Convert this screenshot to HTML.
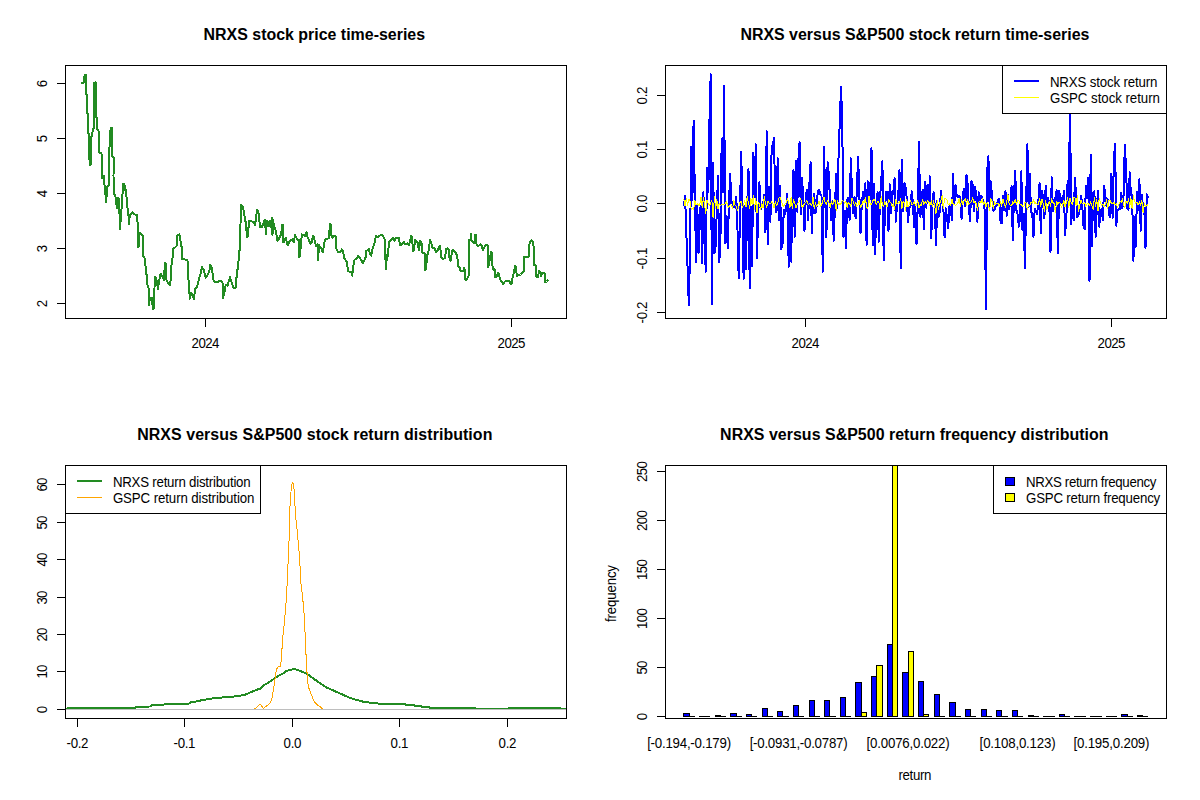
<!DOCTYPE html>
<html><head><meta charset="utf-8"><title>NRXS charts</title>
<style>html,body{margin:0;padding:0;background:#fff;width:1200px;height:800px;overflow:hidden}
svg{display:block;font-family:"Liberation Sans",sans-serif}</style></head>
<body>
<svg width="1200" height="800" viewBox="0 0 1200 800">
<rect width="1200" height="800" fill="#fff"/>
<g shape-rendering="auto">
<polyline points="82.2,83.1 83.5,82.5 84.0,78.8 84.8,74.8 86.0,75.2 86.0,93.8 87.0,94.4 87.0,113.1 88.2,113.8 88.2,133.1 89.2,133.8 89.2,156.2 90.0,165.0 91.0,163.8 91.0,138.1 92.0,135.0 93.0,129.4 94.0,128.1 94.0,83.1 95.6,82.5 96.0,116.9 97.2,117.5 97.5,130.0 98.5,130.6 98.8,141.9 99.4,142.5 99.4,153.1 101.5,153.5 102.2,170.0 102.2,178.1 103.8,175.6 104.4,183.8 105.0,190.0 106.2,201.9 107.2,186.2 109.0,185.0 109.4,167.5 109.4,147.5 110.0,145.0 110.6,127.5 111.9,128.1 112.2,156.2 113.8,157.5 113.5,176.2 113.8,192.5 115.6,197.5 116.9,208.1 118.1,197.5 119.0,198.8 120.0,228.8 121.2,213.8 122.2,198.8 123.1,183.8 124.4,184.4 125.2,190.0 126.2,190.0 126.9,205.0 128.1,211.2 129.1,223.8 129.8,215.0 132.5,211.9 134.4,214.4 136.9,215.0 137.8,225.0 138.5,247.5 139.4,232.5 141.2,233.8 142.8,235.6 143.1,256.2 145.0,258.8 145.6,267.5 146.9,277.5 147.5,285.0 148.8,288.8 149.0,305.0 150.0,297.5 151.9,297.5 152.8,308.8 153.8,308.1 154.4,290.0 155.0,276.9 156.2,277.5 156.9,282.5 158.1,288.8 159.0,281.2 160.6,273.8 162.5,276.2 163.8,280.0 165.0,262.5 166.2,263.8 166.5,280.0 168.1,283.1 170.0,285.0 170.6,280.0 171.2,267.5 172.5,258.1 173.1,248.8 175.0,247.5 176.9,245.6 177.5,235.0 179.4,234.4 180.6,241.2 181.9,248.8 181.9,258.8 185.0,259.4 187.5,260.6 188.1,273.8 189.0,286.2 189.8,298.8 191.2,292.5 192.5,295.0 194.0,298.8 195.0,288.8 196.9,287.5 198.1,282.5 199.4,277.5 200.6,273.8 201.9,266.9 203.8,270.0 205.6,277.5 207.5,275.0 209.4,271.2 210.0,265.0 211.9,267.5 213.1,278.8 214.4,281.9 217.5,281.9 220.6,280.6 222.5,282.5 223.1,298.1 224.4,292.5 225.6,285.0 227.5,285.6 228.8,281.2 230.0,276.9 231.2,281.2 232.5,285.0 233.8,288.1 235.6,287.5 236.2,280.0 238.1,265.0 239.4,252.5 240.0,242.5 241.0,205.0 242.5,206.2 243.8,211.2 245.0,218.8 246.2,225.0 246.9,236.9 248.1,236.2 248.8,221.2 250.6,220.6 252.5,221.9 253.8,221.9 255.0,225.6 256.2,218.1 256.9,210.0 258.1,211.2 259.0,216.2 260.0,226.9 261.9,226.9 263.1,223.8 264.8,220.0 266.0,233.8 266.9,221.2 268.1,226.2 269.4,221.2 270.6,227.5 271.9,217.5 272.5,235.0 273.1,219.4 273.8,225.0 275.0,228.8 276.2,231.2 276.9,240.6 278.1,240.6 279.4,237.5 281.2,234.4 282.2,225.0 283.1,225.0 283.5,242.5 284.8,238.8 286.2,237.5 286.9,244.4 288.1,245.0 289.4,241.2 291.2,240.0 292.5,239.4 293.8,242.5 295.0,235.0 296.2,236.9 296.9,239.4 298.8,240.0 299.0,257.5 300.0,256.2 300.6,247.5 301.9,234.4 303.8,235.0 305.0,236.2 306.5,232.5 307.2,236.2 308.8,240.0 310.6,243.8 311.9,242.5 312.8,235.6 314.0,237.5 315.0,241.9 316.2,246.2 317.5,243.8 318.1,260.6 319.0,245.0 320.6,247.5 321.9,250.0 323.1,252.5 323.8,245.6 325.0,239.4 327.5,238.8 328.8,238.1 330.0,223.8 331.0,225.0 331.2,235.0 332.5,237.5 334.4,235.6 335.6,236.2 336.0,248.1 338.1,251.9 340.0,251.9 341.9,249.4 343.1,251.2 344.4,258.8 345.6,260.0 346.9,261.9 348.1,271.2 350.0,271.9 351.5,271.9 352.2,275.6 353.1,267.5 354.4,260.0 356.2,258.8 358.1,256.2 360.0,258.1 361.2,260.0 362.8,263.1 364.4,260.0 365.6,257.5 366.2,251.2 367.5,250.0 369.0,248.8 370.0,254.4 371.2,255.6 372.5,248.8 373.8,245.0 375.0,241.2 376.0,235.6 376.9,237.5 378.1,236.9 380.0,235.6 381.9,235.0 383.8,237.5 385.0,240.0 385.2,253.8 386.0,268.8 386.9,255.0 388.1,256.2 388.8,242.5 390.6,240.0 393.1,238.1 394.4,240.6 396.2,237.5 398.8,237.5 400.0,245.0 401.9,244.4 403.8,241.9 405.6,244.4 407.5,243.1 408.8,245.0 410.0,241.2 411.2,235.6 412.2,236.9 412.8,251.2 414.0,250.0 415.0,240.0 416.2,241.2 417.5,242.5 418.8,250.0 420.2,241.2 421.5,242.5 422.5,252.5 424.8,253.8 425.2,270.0 426.2,268.8 426.9,255.0 428.1,253.8 429.0,247.5 430.0,240.0 431.2,242.5 432.5,247.5 434.4,248.1 436.0,252.5 437.5,250.6 438.8,247.5 440.0,246.2 441.5,257.5 443.1,258.8 445.0,258.1 446.0,249.4 447.5,248.1 448.8,250.0 449.8,260.6 451.0,260.6 451.9,251.2 453.5,250.0 455.6,252.5 457.2,255.6 458.1,266.2 460.0,268.1 460.5,270.5 463.5,271.0 464.2,268.0 465.0,270.5 465.5,280.0 466.5,279.5 467.8,277.5 469.0,275.0 469.0,240.0 470.5,240.0 471.0,233.5 471.5,240.5 473.5,243.0 474.5,242.5 475.0,234.5 475.8,235.0 476.2,242.5 477.0,245.5 478.5,246.0 480.5,244.0 481.5,245.5 482.8,250.0 484.0,248.0 485.5,245.0 487.0,244.5 488.2,246.0 488.0,267.0 489.0,265.0 490.0,258.0 491.0,252.0 491.8,253.0 492.2,264.5 493.5,270.0 494.5,269.0 495.2,277.0 497.0,276.5 498.0,272.5 499.0,274.0 499.8,279.0 501.0,281.0 502.0,282.0 503.0,284.5 504.5,282.0 506.0,280.5 508.0,280.5 509.5,281.0 510.5,284.0 512.0,283.0 512.5,278.0 513.5,274.0 514.0,271.0 515.2,266.0 516.0,267.0 516.8,276.0 519.0,275.0 520.5,274.5 522.5,273.0 523.8,271.0 524.0,256.5 528.5,257.0 529.0,247.0 530.0,241.5 531.5,240.5 533.0,242.5 534.0,249.5 534.2,265.0 536.0,265.5 536.2,276.5 538.0,277.0 539.0,271.0 540.0,272.0 541.0,276.0 542.0,273.0 544.0,272.5 545.0,274.0 545.2,282.5 546.5,281.5 547.5,280.5" fill="none" stroke="#228B22" stroke-width="2" stroke-linejoin="round" stroke-linecap="round" shape-rendering="crispEdges"/>
<polyline points="683.9,205.6 685.1,196.3 686.3,232.5 687.6,268.3 688.8,305.0 690.0,253.3 691.2,147.2 692.4,200.2 693.6,120.5 694.9,197.3 696.1,262.5 697.3,205.3 698.5,253.3 699.7,211.1 701.0,205.5 702.2,263.3 703.4,192.0 704.6,245.0 705.8,271.7 707.0,168.0 708.3,192.1 709.5,119.7 710.7,74.3 711.9,304.2 713.1,162.7 714.4,253.3 715.6,246.7 716.8,209.8 718.0,176.3 719.2,262.5 720.4,243.3 721.7,138.8 722.9,192.0 724.1,86.3 725.3,243.3 726.5,216.0 727.7,248.3 729.0,201.7 730.2,174.2 731.4,203.5 732.6,201.6 733.8,206.6 735.1,207.7 736.3,197.0 737.5,230.0 738.7,278.3 739.9,219.2 741.1,152.2 742.4,195.4 743.6,279.2 744.8,206.2 746.0,269.2 747.2,204.5 748.5,169.2 749.7,288.3 750.9,206.9 752.1,266.3 753.3,153.0 754.5,197.1 755.8,144.3 757.0,258.0 758.2,211.7 759.4,182.0 760.6,209.5 761.9,205.5 763.1,204.1 764.3,194.7 765.5,232.5 766.7,131.3 767.9,244.2 769.2,187.0 770.4,221.7 771.6,149.7 772.8,144.3 774.0,138.3 775.3,204.5 776.5,212.5 777.7,158.3 778.9,220.0 780.1,185.5 781.3,249.2 782.6,243.3 783.8,209.5 785.0,214.1 786.2,209.6 787.4,193.7 788.7,266.7 789.9,206.3 791.1,261.7 792.3,208.1 793.5,170.0 794.7,236.7 796.0,161.3 797.2,211.7 798.4,160.0 799.6,142.2 800.8,214.2 802.0,178.0 803.3,199.5 804.5,230.8 805.7,197.0 806.9,189.7 808.1,220.0 809.4,184.7 810.6,162.2 811.8,233.3 813.0,200.1 814.2,193.6 815.4,213.3 816.7,205.5 817.9,190.5 819.1,189.8 820.3,194.3 821.5,196.0 822.8,271.7 824.0,147.2 825.2,197.0 826.4,237.5 827.6,162.2 828.8,174.2 830.1,202.1 831.3,220.0 832.5,200.8 833.7,240.8 834.9,207.4 836.2,174.2 837.4,207.6 838.6,154.7 839.8,121.3 841.0,87.2 842.2,118.0 843.5,236.7 844.7,210.5 845.9,248.3 847.1,200.1 848.3,197.9 849.6,220.0 850.8,158.3 852.0,191.1 853.2,213.0 854.4,197.0 855.6,218.3 856.9,188.0 858.1,157.2 859.3,192.5 860.5,233.3 861.7,206.1 863.0,192.0 864.2,199.3 865.4,183.0 866.6,245.0 867.8,181.3 869.0,183.0 870.3,199.2 871.5,148.0 872.7,245.0 873.9,183.8 875.1,254.2 876.3,206.7 877.6,192.2 878.8,241.7 880.0,197.6 881.2,181.3 882.4,161.3 883.7,260.0 884.9,210.4 886.1,192.2 887.3,192.2 888.5,230.8 889.7,184.2 891.0,213.3 892.2,191.3 893.4,194.1 894.6,178.0 895.8,221.7 897.1,204.7 898.3,194.0 899.5,170.5 900.7,268.0 901.9,160.2 903.1,211.0 904.4,183.0 905.6,187.2 906.8,198.3 908.0,221.7 909.2,208.2 910.5,206.2 911.7,191.3 912.9,202.8 914.1,226.7 915.3,205.0 916.5,244.2 917.8,205.7 919.0,142.2 920.2,216.7 921.4,209.1 922.6,189.7 923.9,229.2 925.1,181.7 926.3,207.8 927.5,184.7 928.7,200.8 929.9,176.3 931.2,238.3 932.4,206.4 933.6,192.2 934.8,206.2 936.0,245.0 937.3,201.1 938.5,216.7 939.7,211.7 940.9,191.3 942.1,202.1 943.3,206.8 944.6,237.5 945.8,208.4 947.0,217.8 948.2,228.3 949.4,206.3 950.6,205.4 951.9,220.0 953.1,174.2 954.3,204.2 955.5,184.7 956.7,195.5 958.0,196.7 959.2,195.6 960.4,197.8 961.6,219.2 962.8,193.4 964.0,188.8 965.3,206.2 966.5,175.2 967.7,184.7 968.9,208.2 970.1,220.8 971.4,181.3 972.6,184.7 973.8,211.4 975.0,186.7 976.2,193.7 977.4,221.7 978.7,192.2 979.9,202.6 981.1,195.4 982.3,198.2 983.5,202.8 984.8,211.1 986.0,309.2 987.2,170.5 988.4,156.3 989.6,205.9 990.8,181.3 992.1,196.3 993.3,210.8 994.5,210.2 995.7,205.7 996.9,205.4 998.2,199.3 999.4,199.5 1000.6,222.5 1001.8,223.3 1003.0,195.5 1004.2,210.5 1005.5,191.3 1006.7,215.8 1007.9,194.9 1009.1,209.0 1010.3,203.8 1011.6,186.3 1012.8,240.0 1014.0,195.8 1015.2,170.5 1016.4,210.0 1017.6,214.7 1018.9,226.7 1020.1,217.6 1021.3,171.3 1022.5,230.0 1023.7,213.6 1024.9,268.0 1026.2,201.0 1027.4,144.3 1028.6,206.7 1029.8,174.2 1031.0,211.8 1032.3,214.2 1033.5,237.0 1034.7,209.0 1035.9,210.9 1037.1,213.8 1038.3,202.0 1039.6,183.0 1040.8,233.0 1042.0,190.8 1043.2,198.1 1044.4,218.3 1045.7,185.5 1046.9,203.7 1048.1,198.0 1049.3,203.4 1050.5,252.2 1051.7,177.2 1053.0,211.1 1054.2,208.5 1055.4,197.6 1056.6,190.1 1057.8,253.0 1059.1,191.3 1060.3,196.3 1061.5,202.5 1062.7,203.6 1063.9,190.5 1065.1,235.0 1066.4,216.3 1067.6,181.3 1068.8,203.5 1070.0,100.0 1071.2,224.2 1072.5,205.2 1073.7,220.0 1074.9,178.3 1076.1,195.0 1077.3,217.5 1078.5,215.3 1079.8,208.0 1081.0,196.3 1082.2,203.9 1083.4,225.8 1084.6,229.2 1085.9,185.5 1087.1,198.2 1088.3,178.0 1089.5,280.8 1090.7,155.0 1091.9,245.8 1093.2,192.9 1094.4,191.3 1095.6,236.7 1096.8,208.3 1098.0,191.3 1099.2,226.7 1100.5,210.1 1101.7,209.2 1102.9,220.0 1104.1,185.5 1105.3,195.5 1106.6,206.3 1107.8,199.3 1109.0,215.0 1110.2,217.4 1111.4,173.8 1112.6,217.8 1113.9,158.8 1115.1,144.3 1116.3,225.8 1117.5,209.9 1118.7,209.3 1120.0,209.0 1121.2,193.0 1122.4,208.3 1123.6,194.5 1124.8,145.0 1126.0,166.3 1127.3,208.4 1128.5,210.1 1129.7,172.2 1130.9,194.7 1132.1,194.6 1133.4,260.8 1134.6,217.4 1135.8,246.7 1137.0,191.5 1138.2,210.3 1139.4,179.2 1140.7,230.8 1141.9,194.7 1143.1,208.6 1144.3,207.7 1145.5,248.3 1146.8,194.2 1148.0,197.5" fill="none" stroke="#0000FF" stroke-width="2" stroke-linejoin="round" stroke-linecap="round" shape-rendering="crispEdges"/>
<polyline points="683.9,199.6 685.1,206.1 686.3,198.3 687.6,205.1 688.8,199.1 690.0,200.9 691.2,209.3 692.4,208.4 693.6,210.0 694.9,200.3 696.1,204.9 697.3,203.5 698.5,205.4 699.7,205.0 701.0,197.2 702.2,207.9 703.4,197.2 704.6,205.7 705.8,213.3 707.0,199.9 708.3,203.8 709.5,205.5 710.7,203.1 711.9,200.4 713.1,217.8 714.4,196.9 715.6,208.9 716.8,199.7 718.0,208.9 719.2,203.6 720.4,205.9 721.7,204.2 722.9,205.0 724.1,204.6 725.3,203.7 726.5,201.5 727.7,206.1 729.0,207.4 730.2,204.6 731.4,205.3 732.6,208.5 733.8,200.7 735.1,205.3 736.3,206.0 737.5,210.4 738.7,206.8 739.9,202.8 741.1,200.9 742.4,208.0 743.6,204.2 744.8,200.8 746.0,207.0 747.2,196.6 748.5,203.0 749.7,208.6 750.9,198.5 752.1,204.7 753.3,195.5 754.5,209.5 755.8,198.5 757.0,213.2 758.2,202.1 759.4,203.7 760.6,209.4 761.9,203.8 763.1,208.0 764.3,196.1 765.5,203.8 766.7,207.5 767.9,201.0 769.2,203.3 770.4,203.9 771.6,201.8 772.8,203.3 774.0,208.2 775.3,201.3 776.5,205.5 777.7,203.5 778.9,198.0 780.1,197.6 781.3,200.4 782.6,205.2 783.8,206.5 785.0,204.3 786.2,202.8 787.4,198.8 788.7,202.3 789.9,207.8 791.1,197.1 792.3,208.6 793.5,199.5 794.7,202.7 796.0,207.8 797.2,204.2 798.4,202.8 799.6,200.6 800.8,198.8 802.0,207.4 803.3,206.4 804.5,203.3 805.7,202.4 806.9,200.3 808.1,204.6 809.4,203.6 810.6,204.0 811.8,205.2 813.0,196.6 814.2,208.3 815.4,202.9 816.7,206.9 817.9,204.6 819.1,201.0 820.3,206.8 821.5,205.2 822.8,201.0 824.0,196.8 825.2,203.4 826.4,204.3 827.6,200.6 828.8,201.9 830.1,207.6 831.3,201.2 832.5,205.0 833.7,202.3 834.9,199.4 836.2,210.2 837.4,200.5 838.6,204.8 839.8,203.7 841.0,204.2 842.2,200.1 843.5,201.3 844.7,203.4 845.9,201.6 847.1,207.8 848.3,202.2 849.6,203.5 850.8,206.4 852.0,198.4 853.2,201.7 854.4,205.3 855.6,202.1 856.9,206.4 858.1,205.1 859.3,200.0 860.5,207.6 861.7,205.4 863.0,201.6 864.2,203.1 865.4,197.8 866.6,207.1 867.8,208.9 869.0,196.1 870.3,204.8 871.5,204.9 872.7,200.7 873.9,199.3 875.1,201.2 876.3,204.7 877.6,202.0 878.8,201.2 880.0,209.2 881.2,196.4 882.4,205.4 883.7,206.3 884.9,201.3 886.1,205.0 887.3,206.8 888.5,199.8 889.7,201.8 891.0,202.9 892.2,206.6 893.4,204.0 894.6,209.3 895.8,199.5 897.1,203.9 898.3,202.7 899.5,203.3 900.7,198.9 901.9,208.5 903.1,201.3 904.4,203.2 905.6,210.6 906.8,199.1 908.0,207.4 909.2,204.6 910.5,200.4 911.7,205.0 912.9,204.5 914.1,201.5 915.3,205.0 916.5,205.1 917.8,200.2 919.0,208.2 920.2,204.6 921.4,205.8 922.6,199.3 923.9,204.3 925.1,201.4 926.3,203.9 927.5,200.8 928.7,201.4 929.9,205.7 931.2,200.9 932.4,206.7 933.6,200.8 934.8,206.7 936.0,213.6 937.3,200.3 938.5,209.8 939.7,203.0 940.9,200.8 942.1,195.7 943.3,209.0 944.6,198.7 945.8,198.8 947.0,199.8 948.2,204.6 949.4,203.6 950.6,206.0 951.9,199.0 953.1,203.9 954.3,204.2 955.5,205.2 956.7,204.2 958.0,202.6 959.2,198.5 960.4,206.5 961.6,199.1 962.8,204.3 964.0,201.3 965.3,198.4 966.5,205.1 967.7,199.7 968.9,204.3 970.1,203.2 971.4,201.8 972.6,198.0 973.8,202.4 975.0,201.7 976.2,203.8 977.4,210.4 978.7,202.4 979.9,200.9 981.1,202.6 982.3,198.7 983.5,205.0 984.8,201.8 986.0,207.1 987.2,202.4 988.4,204.7 989.6,210.7 990.8,198.7 992.1,201.7 993.3,208.7 994.5,201.7 995.7,204.8 996.9,203.0 998.2,203.6 999.4,206.7 1000.6,201.3 1001.8,205.3 1003.0,199.3 1004.2,203.8 1005.5,208.0 1006.7,201.8 1007.9,194.4 1009.1,203.6 1010.3,205.4 1011.6,205.9 1012.8,201.8 1014.0,203.4 1015.2,199.3 1016.4,204.3 1017.6,200.9 1018.9,201.0 1020.1,204.2 1021.3,204.4 1022.5,206.2 1023.7,207.0 1024.9,202.3 1026.2,202.9 1027.4,209.9 1028.6,204.3 1029.8,205.6 1031.0,202.4 1032.3,203.3 1033.5,200.0 1034.7,203.5 1035.9,202.6 1037.1,204.1 1038.3,204.3 1039.6,198.8 1040.8,206.8 1042.0,199.4 1043.2,203.3 1044.4,211.5 1045.7,200.6 1046.9,209.6 1048.1,205.8 1049.3,201.1 1050.5,206.3 1051.7,198.7 1053.0,202.7 1054.2,203.8 1055.4,212.3 1056.6,201.5 1057.8,204.5 1059.1,202.1 1060.3,203.0 1061.5,207.8 1062.7,204.5 1063.9,200.6 1065.1,207.1 1066.4,202.0 1067.6,197.9 1068.8,207.1 1070.0,198.1 1071.2,203.2 1072.5,204.7 1073.7,197.6 1074.9,197.7 1076.1,205.4 1077.3,195.6 1078.5,211.6 1079.8,204.4 1081.0,199.8 1082.2,203.3 1083.4,203.8 1084.6,202.2 1085.9,206.3 1087.1,203.8 1088.3,203.0 1089.5,205.4 1090.7,201.8 1091.9,205.3 1093.2,209.5 1094.4,197.7 1095.6,206.4 1096.8,199.9 1098.0,211.0 1099.2,198.2 1100.5,203.3 1101.7,205.8 1102.9,204.1 1104.1,207.2 1105.3,204.3 1106.6,199.7 1107.8,209.0 1109.0,199.8 1110.2,200.8 1111.4,203.3 1112.6,204.0 1113.9,202.2 1115.1,205.1 1116.3,203.6 1117.5,207.4 1118.7,204.4 1120.0,201.7 1121.2,202.2 1122.4,198.6 1123.6,204.5 1124.8,207.8 1126.0,201.0 1127.3,203.5 1128.5,198.6 1129.7,207.4 1130.9,197.9 1132.1,208.8 1133.4,195.8 1134.6,201.2 1135.8,203.6 1137.0,201.9 1138.2,204.9 1139.4,201.6 1140.7,205.5 1141.9,200.6 1143.1,212.7 1144.3,203.8 1145.5,206.5 1146.8,205.7 1148.0,204.1" fill="none" stroke="#FFFF00" stroke-width="1" stroke-linejoin="round" stroke-linecap="round" shape-rendering="crispEdges"/>
<polyline points="65.5,708.7 71.2,707.8 135.0,707.8 135.8,706.8 150.0,706.5 151.5,705.5 158.2,705.0 169.5,704.0 189.0,703.6 190.5,702.5 195.8,701.5 201.0,700.4 208.5,699.0 216.8,697.8 230.2,697.0 239.2,695.8 245.0,694.8 248.8,693.2 252.5,691.4 256.2,689.9 260.0,688.8 263.8,685.4 267.5,683.1 271.2,680.9 275.0,678.2 278.8,675.6 282.5,673.8 286.2,671.1 290.0,669.9 293.8,669.1 297.5,669.9 301.2,671.4 305.0,673.0 308.8,675.2 312.5,677.9 316.2,680.5 320.0,683.1 323.8,685.8 327.5,688.0 331.2,689.5 334.2,690.9 342.5,694.5 350.0,698.0 357.5,700.2 365.0,702.2 372.5,702.8 380.0,703.7 390.0,703.8 405.0,703.8 405.8,704.7 414.0,705.0 414.8,705.9 421.5,706.2 422.2,707.1 429.8,707.4 430.2,708.0 474.8,708.0 475.5,708.5 508.5,708.5 509.2,707.9 559.5,707.9 560.2,708.5 566.5,708.5" fill="none" stroke="#228B22" stroke-width="2" stroke-linejoin="round" stroke-linecap="round" shape-rendering="crispEdges"/>
<line x1="66.00" y1="709.50" x2="566.00" y2="709.50" stroke="#BEBEBE" stroke-width="1" shape-rendering="crispEdges"/>
<polyline points="254.8,708.8 255.5,708.6 259.6,704.5 261.1,705.2 263.4,708.4 265.2,707.1 267.5,705.2 270.1,703.0 271.6,699.6 272.6,695.5 273.5,688.8 274.6,683.5 275.4,675.2 276.5,669.2 278.0,667.0 280.2,666.2 281.0,662.1 281.6,655.0 282.2,645.8 283.1,634.4 284.1,624.8 285.4,610.8 286.6,595.0 287.6,572.2 288.9,546.0 289.4,525.0 289.4,517.2 290.5,497.4 291.5,486.1 292.4,482.4 293.4,483.5 294.2,490.2 295.0,506.0 295.9,519.1 296.4,525.0 297.3,530.2 298.1,541.6 299.4,554.8 300.2,568.8 301.1,585.4 302.4,595.0 303.4,605.5 304.3,616.9 305.1,633.5 305.9,654.5 306.5,655.0 306.9,670.8 307.6,681.2 308.8,688.0 310.2,691.8 311.8,695.5 313.2,700.0 315.1,702.6 317.8,705.2 320.0,706.4 322.3,708.6" fill="none" stroke="#FFA500" stroke-width="1" stroke-linejoin="round" stroke-linecap="round" shape-rendering="crispEdges"/>
<rect x="683.50" y="713.50" width="6.00" height="3.00" fill="#0000FF" stroke="#000" stroke-width="1" />
<line x1="689.00" y1="716.50" x2="695.00" y2="716.50" stroke="#000" stroke-width="1" />
<line x1="699.00" y1="716.50" x2="705.00" y2="716.50" stroke="#000" stroke-width="1" />
<line x1="704.00" y1="716.50" x2="710.00" y2="716.50" stroke="#000" stroke-width="1" />
<rect x="715.50" y="715.50" width="5.00" height="1.00" fill="#0000FF" stroke="#000" stroke-width="1" />
<line x1="720.00" y1="716.50" x2="726.00" y2="716.50" stroke="#000" stroke-width="1" />
<rect x="730.50" y="713.50" width="6.00" height="3.00" fill="#0000FF" stroke="#000" stroke-width="1" />
<line x1="736.00" y1="716.50" x2="742.00" y2="716.50" stroke="#000" stroke-width="1" />
<rect x="746.50" y="714.50" width="5.00" height="2.00" fill="#0000FF" stroke="#000" stroke-width="1" />
<line x1="751.00" y1="716.50" x2="757.00" y2="716.50" stroke="#000" stroke-width="1" />
<rect x="762.50" y="708.50" width="5.00" height="8.00" fill="#0000FF" stroke="#000" stroke-width="1" />
<line x1="767.00" y1="716.50" x2="773.00" y2="716.50" stroke="#000" stroke-width="1" />
<rect x="777.50" y="711.50" width="5.00" height="5.00" fill="#0000FF" stroke="#000" stroke-width="1" />
<line x1="782.00" y1="716.50" x2="789.00" y2="716.50" stroke="#000" stroke-width="1" />
<rect x="793.50" y="705.50" width="5.00" height="11.00" fill="#0000FF" stroke="#000" stroke-width="1" />
<line x1="798.00" y1="716.50" x2="804.00" y2="716.50" stroke="#000" stroke-width="1" />
<rect x="809.50" y="700.50" width="5.00" height="16.00" fill="#0000FF" stroke="#000" stroke-width="1" />
<line x1="814.00" y1="716.50" x2="820.00" y2="716.50" stroke="#000" stroke-width="1" />
<rect x="824.50" y="700.50" width="5.00" height="16.00" fill="#0000FF" stroke="#000" stroke-width="1" />
<line x1="829.00" y1="716.50" x2="836.00" y2="716.50" stroke="#000" stroke-width="1" />
<rect x="840.50" y="697.50" width="5.00" height="19.00" fill="#0000FF" stroke="#000" stroke-width="1" />
<line x1="845.00" y1="716.50" x2="851.00" y2="716.50" stroke="#000" stroke-width="1" />
<rect x="855.50" y="682.50" width="6.00" height="34.00" fill="#0000FF" stroke="#000" stroke-width="1" />
<rect x="861.50" y="712.50" width="5.00" height="4.00" fill="#FFFF00" stroke="#000" stroke-width="1" />
<rect x="871.50" y="676.50" width="5.00" height="40.00" fill="#0000FF" stroke="#000" stroke-width="1" />
<rect x="876.50" y="665.50" width="6.00" height="51.00" fill="#FFFF00" stroke="#000" stroke-width="1" />
<rect x="887.50" y="644.50" width="5.00" height="72.00" fill="#0000FF" stroke="#000" stroke-width="1" />
<rect x="892.50" y="465.50" width="5.00" height="251.00" fill="#FFFF00" stroke="#000" stroke-width="1" />
<rect x="902.50" y="672.50" width="6.00" height="44.00" fill="#0000FF" stroke="#000" stroke-width="1" />
<rect x="908.50" y="651.50" width="5.00" height="65.00" fill="#FFFF00" stroke="#000" stroke-width="1" />
<rect x="918.50" y="681.50" width="5.00" height="35.00" fill="#0000FF" stroke="#000" stroke-width="1" />
<rect x="923.50" y="714.50" width="5.00" height="2.00" fill="#FFFF00" stroke="#000" stroke-width="1" />
<rect x="934.50" y="694.50" width="5.00" height="22.00" fill="#0000FF" stroke="#000" stroke-width="1" />
<line x1="939.00" y1="716.50" x2="945.00" y2="716.50" stroke="#000" stroke-width="1" />
<rect x="949.50" y="702.50" width="6.00" height="14.00" fill="#0000FF" stroke="#000" stroke-width="1" />
<line x1="955.00" y1="716.50" x2="961.00" y2="716.50" stroke="#000" stroke-width="1" />
<rect x="965.50" y="709.50" width="5.00" height="7.00" fill="#0000FF" stroke="#000" stroke-width="1" />
<line x1="970.00" y1="716.50" x2="976.00" y2="716.50" stroke="#000" stroke-width="1" />
<rect x="981.50" y="709.50" width="5.00" height="7.00" fill="#0000FF" stroke="#000" stroke-width="1" />
<line x1="986.00" y1="716.50" x2="992.00" y2="716.50" stroke="#000" stroke-width="1" />
<rect x="996.50" y="710.50" width="5.00" height="6.00" fill="#0000FF" stroke="#000" stroke-width="1" />
<line x1="1001.00" y1="716.50" x2="1008.00" y2="716.50" stroke="#000" stroke-width="1" />
<rect x="1012.50" y="710.50" width="5.00" height="6.00" fill="#0000FF" stroke="#000" stroke-width="1" />
<line x1="1017.00" y1="716.50" x2="1023.00" y2="716.50" stroke="#000" stroke-width="1" />
<rect x="1028.50" y="715.50" width="5.00" height="1.00" fill="#0000FF" stroke="#000" stroke-width="1" />
<line x1="1033.00" y1="716.50" x2="1039.00" y2="716.50" stroke="#000" stroke-width="1" />
<line x1="1043.00" y1="716.50" x2="1049.00" y2="716.50" stroke="#000" stroke-width="1" />
<line x1="1048.00" y1="716.50" x2="1055.00" y2="716.50" stroke="#000" stroke-width="1" />
<rect x="1059.50" y="714.50" width="5.00" height="2.00" fill="#0000FF" stroke="#000" stroke-width="1" />
<line x1="1064.00" y1="716.50" x2="1070.00" y2="716.50" stroke="#000" stroke-width="1" />
<line x1="1074.00" y1="716.50" x2="1081.00" y2="716.50" stroke="#000" stroke-width="1" />
<line x1="1080.00" y1="716.50" x2="1086.00" y2="716.50" stroke="#000" stroke-width="1" />
<line x1="1090.00" y1="716.50" x2="1096.00" y2="716.50" stroke="#000" stroke-width="1" />
<line x1="1095.00" y1="716.50" x2="1102.00" y2="716.50" stroke="#000" stroke-width="1" />
<line x1="1106.00" y1="716.50" x2="1112.00" y2="716.50" stroke="#000" stroke-width="1" />
<line x1="1111.00" y1="716.50" x2="1117.00" y2="716.50" stroke="#000" stroke-width="1" />
<rect x="1121.50" y="714.50" width="6.00" height="2.00" fill="#0000FF" stroke="#000" stroke-width="1" />
<line x1="1127.00" y1="716.50" x2="1133.00" y2="716.50" stroke="#000" stroke-width="1" />
<rect x="1137.50" y="715.50" width="5.00" height="1.00" fill="#0000FF" stroke="#000" stroke-width="1" />
<line x1="1142.00" y1="716.50" x2="1148.00" y2="716.50" stroke="#000" stroke-width="1" />
</g>
<g shape-rendering="crispEdges">
<line x1="57.00" y1="83.50" x2="65.00" y2="83.50" stroke="#000" stroke-width="1" />
<line x1="57.00" y1="138.50" x2="65.00" y2="138.50" stroke="#000" stroke-width="1" />
<line x1="57.00" y1="193.50" x2="65.00" y2="193.50" stroke="#000" stroke-width="1" />
<line x1="57.00" y1="248.50" x2="65.00" y2="248.50" stroke="#000" stroke-width="1" />
<line x1="57.00" y1="303.50" x2="65.00" y2="303.50" stroke="#000" stroke-width="1" />
<line x1="205.50" y1="319.00" x2="205.50" y2="327.00" stroke="#000" stroke-width="1" />
<line x1="511.50" y1="319.00" x2="511.50" y2="327.00" stroke="#000" stroke-width="1" />
<rect x="65.50" y="65.50" width="501.00" height="253.00" fill="none" stroke="#000" stroke-width="1" />
<line x1="657.00" y1="95.50" x2="665.00" y2="95.50" stroke="#000" stroke-width="1" />
<line x1="657.00" y1="149.50" x2="665.00" y2="149.50" stroke="#000" stroke-width="1" />
<line x1="657.00" y1="203.50" x2="665.00" y2="203.50" stroke="#000" stroke-width="1" />
<line x1="657.00" y1="258.50" x2="665.00" y2="258.50" stroke="#000" stroke-width="1" />
<line x1="657.00" y1="312.50" x2="665.00" y2="312.50" stroke="#000" stroke-width="1" />
<line x1="805.50" y1="319.00" x2="805.50" y2="327.00" stroke="#000" stroke-width="1" />
<line x1="1111.50" y1="319.00" x2="1111.50" y2="327.00" stroke="#000" stroke-width="1" />
<rect x="665.50" y="65.50" width="501.00" height="253.00" fill="none" stroke="#000" stroke-width="1" />
<line x1="57.00" y1="484.50" x2="65.00" y2="484.50" stroke="#000" stroke-width="1" />
<line x1="57.00" y1="522.50" x2="65.00" y2="522.50" stroke="#000" stroke-width="1" />
<line x1="57.00" y1="559.50" x2="65.00" y2="559.50" stroke="#000" stroke-width="1" />
<line x1="57.00" y1="597.50" x2="65.00" y2="597.50" stroke="#000" stroke-width="1" />
<line x1="57.00" y1="634.50" x2="65.00" y2="634.50" stroke="#000" stroke-width="1" />
<line x1="57.00" y1="671.50" x2="65.00" y2="671.50" stroke="#000" stroke-width="1" />
<line x1="57.00" y1="709.50" x2="65.00" y2="709.50" stroke="#000" stroke-width="1" />
<line x1="77.50" y1="719.00" x2="77.50" y2="727.00" stroke="#000" stroke-width="1" />
<line x1="184.50" y1="719.00" x2="184.50" y2="727.00" stroke="#000" stroke-width="1" />
<line x1="292.50" y1="719.00" x2="292.50" y2="727.00" stroke="#000" stroke-width="1" />
<line x1="399.50" y1="719.00" x2="399.50" y2="727.00" stroke="#000" stroke-width="1" />
<line x1="507.50" y1="719.00" x2="507.50" y2="727.00" stroke="#000" stroke-width="1" />
<rect x="65.50" y="465.50" width="501.00" height="253.00" fill="none" stroke="#000" stroke-width="1" />
<line x1="657.00" y1="716.50" x2="665.00" y2="716.50" stroke="#000" stroke-width="1" />
<line x1="657.00" y1="667.50" x2="665.00" y2="667.50" stroke="#000" stroke-width="1" />
<line x1="657.00" y1="618.50" x2="665.00" y2="618.50" stroke="#000" stroke-width="1" />
<line x1="657.00" y1="569.50" x2="665.00" y2="569.50" stroke="#000" stroke-width="1" />
<line x1="657.00" y1="520.50" x2="665.00" y2="520.50" stroke="#000" stroke-width="1" />
<line x1="657.00" y1="471.50" x2="665.00" y2="471.50" stroke="#000" stroke-width="1" />
<rect x="665.50" y="465.50" width="501.00" height="253.00" fill="none" stroke="#000" stroke-width="1" />
</g>
<text transform="translate(314.30 40.00)" font-size="15.94" text-anchor="middle" font-weight="bold" fill="#000">NRXS stock price time-series</text>
<text transform="translate(46.85 83.50) rotate(-90) scale(1 1.08)" font-size="13.28" text-anchor="middle" textLength="7.00" lengthAdjust="spacing" fill="#000">6</text>
<text transform="translate(46.85 138.50) rotate(-90) scale(1 1.08)" font-size="13.28" text-anchor="middle" textLength="7.00" lengthAdjust="spacing" fill="#000">5</text>
<text transform="translate(46.85 193.50) rotate(-90) scale(1 1.08)" font-size="13.28" text-anchor="middle" textLength="7.00" lengthAdjust="spacing" fill="#000">4</text>
<text transform="translate(46.85 248.50) rotate(-90) scale(1 1.08)" font-size="13.28" text-anchor="middle" textLength="7.00" lengthAdjust="spacing" fill="#000">3</text>
<text transform="translate(46.85 303.50) rotate(-90) scale(1 1.08)" font-size="13.28" text-anchor="middle" textLength="7.00" lengthAdjust="spacing" fill="#000">2</text>
<text transform="translate(205.50 348.00) scale(1 1.08)" font-size="13.28" text-anchor="middle" textLength="28.00" lengthAdjust="spacing" fill="#000">2024</text>
<text transform="translate(511.50 348.00) scale(1 1.08)" font-size="13.28" text-anchor="middle" textLength="28.00" lengthAdjust="spacing" fill="#000">2025</text>
<text transform="translate(914.90 40.00)" font-size="15.94" text-anchor="middle" font-weight="bold" fill="#000">NRXS versus S&amp;P500 stock return time-series</text>
<text transform="translate(646.85 95.50) rotate(-90) scale(1 1.08)" font-size="13.28" text-anchor="middle" textLength="18.00" lengthAdjust="spacing" fill="#000">0.2</text>
<text transform="translate(646.85 149.50) rotate(-90) scale(1 1.08)" font-size="13.28" text-anchor="middle" textLength="18.00" lengthAdjust="spacing" fill="#000">0.1</text>
<text transform="translate(646.85 203.50) rotate(-90) scale(1 1.08)" font-size="13.28" text-anchor="middle" textLength="18.00" lengthAdjust="spacing" fill="#000">0.0</text>
<text transform="translate(646.85 258.50) rotate(-90) scale(1 1.08)" font-size="13.28" text-anchor="middle" textLength="22.00" lengthAdjust="spacing" fill="#000">-0.1</text>
<text transform="translate(646.85 312.50) rotate(-90) scale(1 1.08)" font-size="13.28" text-anchor="middle" textLength="22.00" lengthAdjust="spacing" fill="#000">-0.2</text>
<text transform="translate(805.50 348.00) scale(1 1.08)" font-size="13.28" text-anchor="middle" textLength="28.00" lengthAdjust="spacing" fill="#000">2024</text>
<text transform="translate(1111.50 348.00) scale(1 1.08)" font-size="13.28" text-anchor="middle" textLength="28.00" lengthAdjust="spacing" fill="#000">2025</text>
<text transform="translate(314.80 440.00)" font-size="15.94" text-anchor="middle" font-weight="bold" textLength="355.20" lengthAdjust="spacing" fill="#000">NRXS versus S&amp;P500 stock return distribution</text>
<text transform="translate(46.85 484.50) rotate(-90) scale(1 1.08)" font-size="13.28" text-anchor="middle" textLength="14.00" lengthAdjust="spacing" fill="#000">60</text>
<text transform="translate(46.85 522.50) rotate(-90) scale(1 1.08)" font-size="13.28" text-anchor="middle" textLength="14.00" lengthAdjust="spacing" fill="#000">50</text>
<text transform="translate(46.85 559.50) rotate(-90) scale(1 1.08)" font-size="13.28" text-anchor="middle" textLength="14.00" lengthAdjust="spacing" fill="#000">40</text>
<text transform="translate(46.85 597.50) rotate(-90) scale(1 1.08)" font-size="13.28" text-anchor="middle" textLength="14.00" lengthAdjust="spacing" fill="#000">30</text>
<text transform="translate(46.85 634.50) rotate(-90) scale(1 1.08)" font-size="13.28" text-anchor="middle" textLength="14.00" lengthAdjust="spacing" fill="#000">20</text>
<text transform="translate(46.85 671.50) rotate(-90) scale(1 1.08)" font-size="13.28" text-anchor="middle" textLength="14.00" lengthAdjust="spacing" fill="#000">10</text>
<text transform="translate(46.85 709.50) rotate(-90) scale(1 1.08)" font-size="13.28" text-anchor="middle" textLength="7.00" lengthAdjust="spacing" fill="#000">0</text>
<text transform="translate(77.50 748.00) scale(1 1.08)" font-size="13.28" text-anchor="middle" textLength="22.00" lengthAdjust="spacing" fill="#000">-0.2</text>
<text transform="translate(184.50 748.00) scale(1 1.08)" font-size="13.28" text-anchor="middle" textLength="22.00" lengthAdjust="spacing" fill="#000">-0.1</text>
<text transform="translate(292.50 748.00) scale(1 1.08)" font-size="13.28" text-anchor="middle" textLength="18.00" lengthAdjust="spacing" fill="#000">0.0</text>
<text transform="translate(399.50 748.00) scale(1 1.08)" font-size="13.28" text-anchor="middle" textLength="18.00" lengthAdjust="spacing" fill="#000">0.1</text>
<text transform="translate(507.50 748.00) scale(1 1.08)" font-size="13.28" text-anchor="middle" textLength="18.00" lengthAdjust="spacing" fill="#000">0.2</text>
<text transform="translate(914.30 440.00)" font-size="15.94" text-anchor="middle" font-weight="bold" textLength="388.40" lengthAdjust="spacing" fill="#000">NRXS versus S&amp;P500 return frequency distribution</text>
<text transform="translate(646.85 716.50) rotate(-90) scale(1 1.08)" font-size="13.28" text-anchor="middle" textLength="7.00" lengthAdjust="spacing" fill="#000">0</text>
<text transform="translate(646.85 667.50) rotate(-90) scale(1 1.08)" font-size="13.28" text-anchor="middle" textLength="14.00" lengthAdjust="spacing" fill="#000">50</text>
<text transform="translate(646.85 618.50) rotate(-90) scale(1 1.08)" font-size="13.28" text-anchor="middle" textLength="21.00" lengthAdjust="spacing" fill="#000">100</text>
<text transform="translate(646.85 569.50) rotate(-90) scale(1 1.08)" font-size="13.28" text-anchor="middle" textLength="21.00" lengthAdjust="spacing" fill="#000">150</text>
<text transform="translate(646.85 520.50) rotate(-90) scale(1 1.08)" font-size="13.28" text-anchor="middle" textLength="21.00" lengthAdjust="spacing" fill="#000">200</text>
<text transform="translate(646.85 471.50) rotate(-90) scale(1 1.08)" font-size="13.28" text-anchor="middle" textLength="21.00" lengthAdjust="spacing" fill="#000">250</text>
<text transform="translate(615.50 593.50) rotate(-90) scale(1 1.08)" font-size="13.28" text-anchor="middle" textLength="57.00" lengthAdjust="spacing" fill="#000">frequency</text>
<text transform="translate(914.90 780.00) scale(1 1.08)" font-size="13.28" text-anchor="middle" textLength="33.00" lengthAdjust="spacing" fill="#000">return</text>
<text transform="translate(689.12 748.00) scale(1 1.08)" font-size="13.28" text-anchor="middle" textLength="84.00" lengthAdjust="spacing" fill="#000">[-0.194,-0.179)</text>
<text transform="translate(798.62 748.00) scale(1 1.08)" font-size="13.28" text-anchor="middle" textLength="98.00" lengthAdjust="spacing" fill="#000">[-0.0931,-0.0787)</text>
<text transform="translate(908.11 748.00) scale(1 1.08)" font-size="13.28" text-anchor="middle" textLength="83.00" lengthAdjust="spacing" fill="#000">[0.0076,0.022)</text>
<text transform="translate(1017.61 748.00) scale(1 1.08)" font-size="13.28" text-anchor="middle" textLength="76.00" lengthAdjust="spacing" fill="#000">[0.108,0.123)</text>
<text transform="translate(1111.47 748.00) scale(1 1.08)" font-size="13.28" text-anchor="middle" textLength="76.00" lengthAdjust="spacing" fill="#000">[0.195,0.209)</text>
<g shape-rendering="crispEdges">
<rect x="1002.50" y="65.50" width="164.00" height="48.00" fill="#fff" stroke="#000" stroke-width="1" />
<line x1="1014.00" y1="81.00" x2="1039.00" y2="81.00" stroke="#0000FF" stroke-width="2" />
<line x1="1014.00" y1="97.50" x2="1039.00" y2="97.50" stroke="#FFFF00" stroke-width="1" />
<rect x="65.50" y="465.50" width="195.00" height="48.00" fill="#fff" stroke="#000" stroke-width="1" />
<line x1="77.00" y1="481.00" x2="102.00" y2="481.00" stroke="#228B22" stroke-width="2" />
<line x1="77.00" y1="497.50" x2="102.00" y2="497.50" stroke="#FFA500" stroke-width="1" />
<rect x="993.50" y="465.50" width="173.00" height="48.00" fill="#fff" stroke="#000" stroke-width="1" />
<rect x="1005.50" y="477.50" width="9.00" height="8.00" fill="#0000FF" stroke="#000" stroke-width="1" />
<rect x="1005.50" y="493.50" width="9.00" height="8.00" fill="#FFFF00" stroke="#000" stroke-width="1" />
</g>
<text transform="translate(1049.90 86.50) scale(1 1.08)" font-size="13.28" text-anchor="start" textLength="107.44" lengthAdjust="spacing" fill="#000">NRXS stock return</text>
<text transform="translate(1049.90 102.50) scale(1 1.08)" font-size="13.28" text-anchor="start" textLength="110.10" lengthAdjust="spacing" fill="#000">GSPC stock return</text>
<text transform="translate(112.90 486.60) scale(1 1.08)" font-size="13.28" text-anchor="start" textLength="137.75" lengthAdjust="spacing" fill="#000">NRXS return distribution</text>
<text transform="translate(112.90 502.50) scale(1 1.08)" font-size="13.28" text-anchor="start" textLength="141.50" lengthAdjust="spacing" fill="#000">GSPC return distribution</text>
<text transform="translate(1026.00 486.60) scale(1 1.08)" font-size="13.28" text-anchor="start" textLength="130.40" lengthAdjust="spacing" fill="#000">NRXS return frequency</text>
<text transform="translate(1026.00 502.60) scale(1 1.08)" font-size="13.28" text-anchor="start" textLength="134.25" lengthAdjust="spacing" fill="#000">GSPC return frequency</text>
</svg>
</body></html>
